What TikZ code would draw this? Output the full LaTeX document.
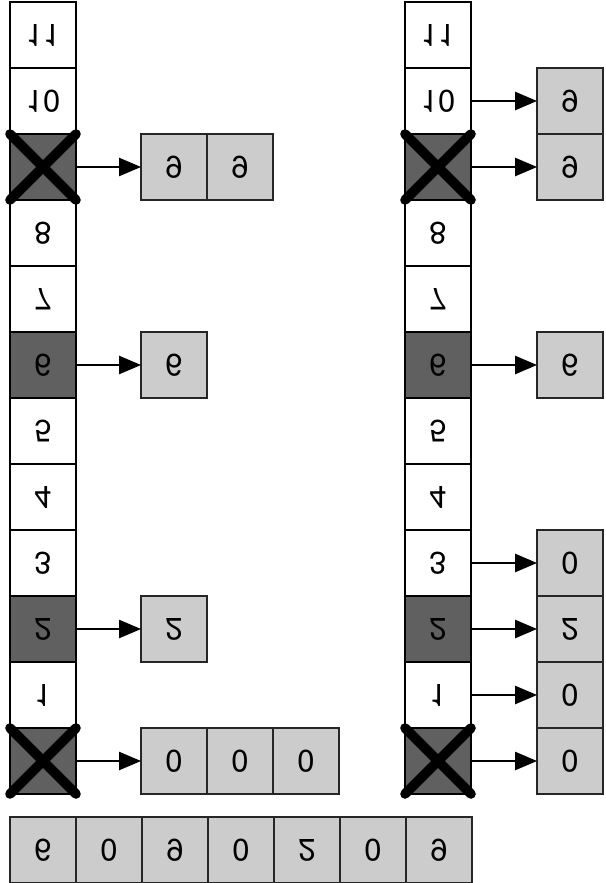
\documentclass[tikz,border=0pt]{standalone}
\usepackage{fontspec}
\setmainfont{TeX Gyre Heros}
\usepackage{graphicx}
\usetikzlibrary{positioning,arrows.meta}
\definecolor{slotdark}{HTML}{606060}
\definecolor{boxgray}{HTML}{CCCCCC}
\newcommand{\flipd}[1]{\scalebox{1}[-1]{#1}}

\begin{document}
\begin{tikzpicture}[x=0.25mm,y=-0.25mm,
  cell/.style={draw,line width=0.3mm,minimum size=16.5mm,inner sep=0pt,outer sep=0pt,font=\fontsize{22}{26}\selectfont,fill=white},
  dark/.style={fill=slotdark},
  val/.style={cell,fill=boxgray,draw=black!85},
  xmark/.style={line width=2.4mm,line cap=round},
  ar/.style={-{Triangle[length=5.5mm,width=4.6mm]},line width=0.3mm},
  node distance=0pt]
\useasboundingbox (0,0) rectangle (605,883);
% the two tables
\foreach \i in {0,...,11} {
  \node[cell] (L\i) at (43,761-66*\i) {\flipd{\i}};
  \node[cell] (R\i) at (438,761-66*\i) {\flipd{\i}};
}
\foreach \i in {2,6} {
  \node[cell,dark] at (L\i) {\flipd{\i}};
  \node[cell,dark] at (R\i) {\flipd{\i}};
}
\foreach \t in {L,R} \foreach \i in {0,9} {
  \node[cell,dark] at (\t\i) {};
  \draw[xmark] (\t\i.north west) -- (\t\i.south east);
  \draw[xmark] (\t\i.south west) -- (\t\i.north east);
}
% left: chained buckets
\node[val] (B9a) at (174,167) {\flipd{9}};
\node[val,right=of B9a] (B9b) {\flipd{9}};
\node[val] (B6) at (174,365) {\flipd{6}};
\node[val] (B2) at (174,629) {\flipd{2}};
\node[val] (B0a) at (174,761) {\flipd{0}};
\node[val,right=of B0a] (B0b) {\flipd{0}};
\node[val,right=of B0b] (B0c) {\flipd{0}};
\draw[ar] (L9) -- (B9a);
\draw[ar] (L6) -- (B6);
\draw[ar] (L2) -- (B2);
\draw[ar] (L0) -- (B0a);
% right: open addressing
\node[val] (Q10) at (570,101) {\flipd{9}};
\node[val] (Q9) at (570,167) {\flipd{9}};
\node[val] (Q6) at (570,365) {\flipd{6}};
\node[val] (Q3) at (570,563) {\flipd{0}};
\node[val] (Q2) at (570,629) {\flipd{2}};
\node[val] (Q1) at (570,695) {\flipd{0}};
\node[val] (Q0) at (570,761) {\flipd{0}};
\foreach \i in {10,9,6,3,2,1,0}
  \draw[ar] (R\i) -- (Q\i);
% input keys
\node[val] (S1) at (43,850) {\flipd{6}};
\node[val,right=of S1] (S2) {\flipd{0}};
\node[val,right=of S2] (S3) {\flipd{9}};
\node[val,right=of S3] (S4) {\flipd{0}};
\node[val,right=of S4] (S5) {\flipd{2}};
\node[val,right=of S5] (S6) {\flipd{0}};
\node[val,right=of S6] (S7) {\flipd{9}};
\end{tikzpicture}
\end{document}
